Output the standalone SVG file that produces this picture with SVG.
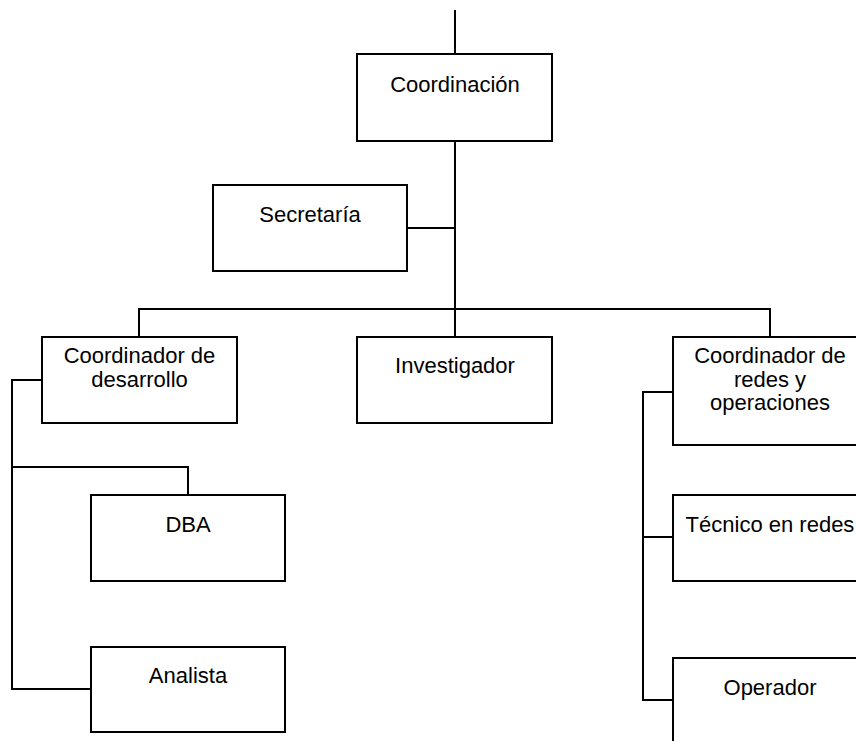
<svg xmlns="http://www.w3.org/2000/svg" width="856" height="741" viewBox="0 0 856 741">
<style>
.box{fill:#fff;stroke:#000;stroke-width:2}
.ln{fill:none;stroke:#000;stroke-width:2}
text{font-family:"Liberation Sans",Arial,sans-serif;font-size:22px;fill:#000;text-anchor:middle}
</style>
<rect width="856" height="741" fill="#fff"/>
<g id="connectors">
<path class="ln" d="M455,10V54"/>
<path class="ln" d="M455,141V309"/>
<path class="ln" d="M407,228H455"/>
<path class="ln" d="M139,337V309H770V337"/>
<path class="ln" d="M455,309V337"/>
<path class="ln" d="M42,380H12V689H91"/>
<path class="ln" d="M12,467H188V495"/>
<path class="ln" d="M673,392H643V700H673"/>
<path class="ln" d="M643,537H673"/>
</g>
<g id="coordinacion"><rect class="box" x="357" y="54" width="195" height="87"/><text x="455" y="92">Coordinación</text></g>
<g id="secretaria"><rect class="box" x="213" y="185" width="194" height="86"/><text x="310" y="222">Secretaría</text></g>
<g id="coord-desarrollo"><rect class="box" x="42" y="337" width="195" height="86"/><text x="139.5" y="363">Coordinador de</text><text x="139.5" y="387">desarrollo</text></g>
<g id="investigador"><rect class="box" x="357" y="337" width="195" height="86"/><text x="455" y="373">Investigador</text></g>
<g id="coord-redes"><rect class="box" x="673" y="337" width="194" height="108"/><text x="770" y="363">Coordinador de</text><text x="770" y="387">redes y</text><text x="770" y="410">operaciones</text></g>
<g id="dba"><rect class="box" x="91" y="495" width="194" height="86"/><text x="188" y="532">DBA</text></g>
<g id="analista"><rect class="box" x="91" y="647" width="194" height="85"/><text x="188" y="683">Analista</text></g>
<g id="tecnico"><rect class="box" x="673" y="495" width="194" height="86"/><text x="770" y="532">Técnico en redes</text></g>
<g id="operador"><rect class="box" x="673" y="658" width="194" height="88"/><text x="770" y="695">Operador</text></g>
</svg>
